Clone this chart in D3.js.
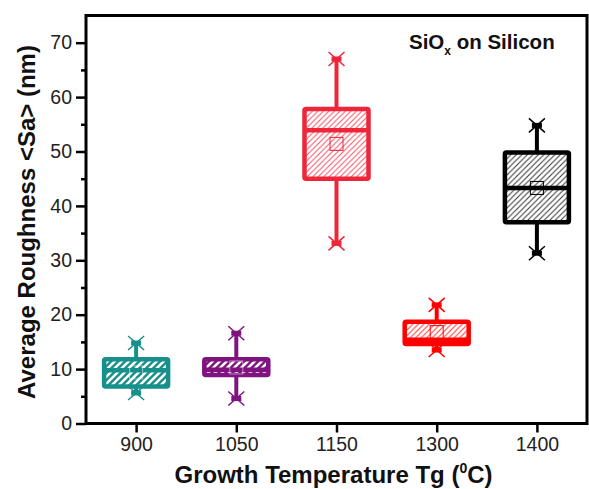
<!DOCTYPE html>
<html><head><meta charset="utf-8">
<script src="https://cdn.jsdelivr.net/npm/d3@7"></script>
<style>body{margin:0;background:#fff}svg{display:block}</style>
</head><body><svg id="c" width="589" height="489"></svg>
<script>
// ---- data ----
const categories = ["900", "1050", "1150", "1300", "1400"];
const q1 = [6.8, 8.9, 45.0, 14.6, 37.0];
const median = [9.8, 9.9, 53.9, 15.4, 43.3];
const q3 = [11.8, 11.8, 57.8, 18.7, 49.8];
const mean = [9.4, 10.3, 51.4, 16.8, 43.3];
const whiskerLow = [5.6, 4.6, 33.1, 13.5, 31.3];
const whiskerHigh = [14.8, 16.6, 67.0, 21.8, 54.8];
const yTicks = [0, 10, 20, 30, 40, 50, 60, 70];
const yMinorTicks = [5, 15, 25, 35, 45, 55, 65];

// ---- style ----
const colors = ["#17908c", "#7f137f", "#ef2639", "#ff0000", "#000000"];
const hatchInverted = [true, true, false, false, false];
const FONT = "'Liberation Sans', Arial, sans-serif";

const svg = d3.select("#c");
const L = 86, R = 587, T = 15.5, B = 423.5;
const x = d3.scaleLinear().domain([0.5, 5.5]).range([L, R]);
const y = d3.scaleLinear().domain([0, 75]).range([B, T]);

// hatch patterns
const defs = svg.append("defs");
colors.forEach((c, i) => {
  const inv = hatchInverted[i];
  const s = inv ? 7 : 5.5;
  const p = defs.append("pattern").attr("id", "h" + i)
    .attr("patternUnits", "userSpaceOnUse").attr("width", s).attr("height", s);
  p.append("rect").attr("width", s).attr("height", s).attr("fill", inv ? c : "#fff");
  p.append("path")
    .attr("d", `M0,${s} L${s},0 M${-s/2},${s/2} L${s/2},${-s/2} M${s/2},${s*1.5} L${s*1.5},${s/2}`)
    .attr("stroke", inv ? "#fff" : c)
    .attr("stroke-width", inv ? 2.6 : 1)
    .attr("stroke-opacity", inv ? 1 : 0.8);
});

// axes
const yAxis = d3.axisLeft(y).tickValues(yTicks).tickSize(10).tickPadding(4).tickFormat(d3.format("d"));
const gy = svg.append("g").attr("transform", `translate(${L},0)`).call(yAxis);
const gym = svg.append("g").attr("transform", `translate(${L},0)`)
  .call(d3.axisLeft(y).tickValues(yMinorTicks).tickSize(5).tickFormat(""));
gym.select(".domain").remove();
const xAxis = d3.axisBottom(x).tickValues(d3.range(1, categories.length + 1))
  .tickSize(9).tickPadding(5).tickFormat(d => categories[d - 1]);
const gx = svg.append("g").attr("transform", `translate(0,${B})`).call(xAxis);
[gy, gym, gx].forEach(g => {
  g.select(".domain").remove();
  g.selectAll(".tick line").attr("stroke", "#000").attr("stroke-width", 2.5);
  g.selectAll(".tick text").attr("font-family", FONT).attr("font-size", 19.5).attr("fill", "#222");
});

// boxes
const boxW = 64;
const g = svg.append("g");
categories.forEach((cat, i) => {
  const cx = x(i + 1), c = colors[i];
  // whisker
  g.append("line").attr("x1", cx).attr("x2", cx)
    .attr("y1", y(whiskerHigh[i])).attr("y2", y(whiskerLow[i]))
    .attr("stroke", c).attr("stroke-width", 4);
  // box
  g.append("rect").attr("x", cx - boxW / 2).attr("width", boxW)
    .attr("y", y(q3[i])).attr("height", y(q1[i]) - y(q3[i]))
    .attr("fill", `url(#h${i})`).attr("stroke", c).attr("stroke-width", 4.5)
    .attr("rx", 1.5);
  // median
  g.append("line").attr("x1", cx - boxW / 2).attr("x2", cx + boxW / 2)
    .attr("y1", y(median[i])).attr("y2", y(median[i]))
    .attr("stroke", c).attr("stroke-width", 4.5);
  // mean square
  g.append("rect").attr("x", cx - 6.5).attr("y", y(mean[i]) - 6.5)
    .attr("width", 13).attr("height", 13).attr("fill", "none")
    .attr("stroke", hatchInverted[i] ? "#fff" : c).attr("stroke-width", 1)
    .attr("stroke-opacity", hatchInverted[i] ? 0.5 : 1);
  // caps and crosses
  [whiskerHigh[i], whiskerLow[i]].forEach(v => {
    const yy = y(v);
    g.append("line").attr("x1", cx - 5).attr("x2", cx + 5).attr("y1", yy).attr("y2", yy)
      .attr("stroke", c).attr("stroke-width", 5);
    g.append("path").attr("d", `M${cx-8},${yy-7} L${cx+8},${yy+7} M${cx-8},${yy+7} L${cx+8},${yy-7}`)
      .attr("stroke", c).attr("stroke-width", 1.5).attr("fill", "none");
  });
});

// frame
svg.append("rect").attr("x", L).attr("y", T).attr("width", R - L).attr("height", B - T)
  .attr("fill", "none").attr("stroke", "#000").attr("stroke-width", 3);

// annotation
const ann = svg.append("text").attr("x", 409).attr("y", 49)
  .attr("font-family", FONT).attr("font-weight", "bold").attr("font-size", 20.5).attr("fill", "#111");
ann.append("tspan").text("SiO");
ann.append("tspan").attr("font-size", 12).attr("dy", 6).text("x");
ann.append("tspan").attr("dy", -6).text(" on Silicon");

// axis titles
const xt = svg.append("text").attr("x", (L + R) / 2 - 3).attr("y", 483).attr("text-anchor", "middle")
  .attr("font-family", FONT).attr("font-weight", "bold").attr("font-size", 24).attr("fill", "#111");
xt.append("tspan").text("Growth Temperature Tg (");
xt.append("tspan").attr("font-size", 14).attr("dy", -10).text("0");
xt.append("tspan").attr("dy", 10).text("C)");

svg.append("text").attr("transform", `translate(35,${222}) rotate(-90)`).attr("text-anchor", "middle")
  .attr("font-family", FONT).attr("font-weight", "bold").attr("font-size", 24).attr("fill", "#111")
  .text("Average Roughness <Sa> (nm)");
</script>
</body></html>
